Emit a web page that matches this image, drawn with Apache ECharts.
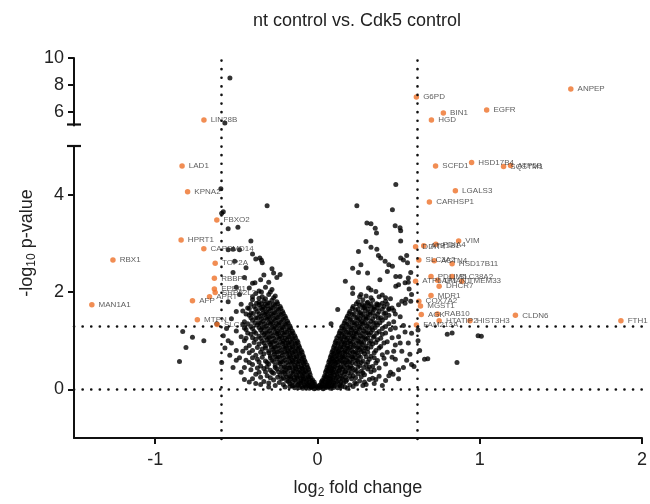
<!DOCTYPE html>
<html><head><meta charset="utf-8">
<script src="https://cdn.jsdelivr.net/npm/echarts@6/dist/echarts.min.js"></script>
<style>html,body{margin:0;padding:0;background:#fff}#c{width:650px;height:504px}</style>
</head><body><div id="c"></div>
<script>
// ---------------- DATA ----------------
const titleText = 'nt control vs. Cdk5 control';
const xTicks = [-1, 0, 1, 2];
const yTicksLow = [0, 2, 4];
const yTicksHigh = [6, 8, 10];
const fcThresholds = [-0.6, 0.6];
const pThresholds = [0, 1.301];

// labelled hits (orange)
const hitNames = ['LIN28B','G6PD','BIN1','EGFR','HGD','ANPEP',
  'LAD1','KPNA2','FBXO2','HPRT1','CAPSMD14','TOP2A','RBBP4','EPB41','SRP52L2','APRT','AFP','MAN1A1','RBX1','MTPN','SLC1A5',
  'SCFD1','HSD17B4','SQSTM1','ATP5B','LGALS3','CARHSP1','VIM','DDIT4','ATP1B1','PDIA4','SLC3A2','ACTN4','HSD17B11',
  'PDLIM5','SLC38A2','ATP6AP1','LMAN1','TMEM33','DHCR7','MDR1','COX7A2','MGST1','AGK','RAB10','HTATIP2','HIST3H3','FAM213A','CLDN6','FTH1'];
const hitFC = [-0.705,0.595,0.76,1.025,0.687,1.54,
  -0.834,-0.80,-0.62,-0.84,-0.70,-0.63,-0.635,-0.635,-0.63,-0.665,-0.77,-1.39,-1.26,-0.74,-0.618,
  0.728,0.95,1.147,1.19,0.85,0.69,0.87,0.605,0.655,0.73,0.625,0.72,0.83,
  0.70,0.83,0.605,0.74,0.89,0.75,0.70,0.625,0.635,0.64,0.74,0.75,0.94,0.61,1.22,1.87];
const hitP = [5.41,7.11,5.93,6.15,5.41,7.70,
  4.59,4.06,3.48,3.07,2.89,2.59,2.28,2.06,1.99,1.90,1.82,1.74,2.66,1.43,1.33,
  4.59,4.66,4.58,4.60,4.08,3.85,3.05,2.93,2.95,2.98,2.66,2.64,2.58,
  2.32,2.32,2.22,2.24,2.22,2.12,1.93,1.81,1.71,1.54,1.55,1.41,1.41,1.32,1.52,1.41];

// background genes (black): [log2 fold change, -log10 p]
const otherPoints = [
 [-0.577,5.19],[-0.546,8.52],
 // right, scattered high
 [0.483,4.21],[0.243,3.77],[0.462,3.69],[0.305,3.42],[0.33,3.40],[0.356,3.31],[0.364,3.21],[0.509,3.32],[0.513,3.26],[0.479,3.36],
 [0.299,3.04],[0.513,3.05],[0.33,2.92],[0.366,2.88],[0.253,2.83],[0.376,2.75],[0.39,2.70],[0.55,2.75],[0.417,2.63],[0.44,2.56],[0.513,2.70],
 [0.53,2.66],[0.217,2.49],[0.268,2.56],[0.253,2.40],[0.309,2.39],[0.431,2.42],[0.462,2.53],[0.483,2.32],[0.509,2.32],[0.172,2.22],[0.385,2.25],
 [0.56,2.29],[0.217,2.08],[0.217,1.97],[0.268,1.95],[0.315,2.08],[0.33,2.04],[0.36,2.01],[0.40,1.94],[0.483,2.12],[0.50,2.15],[0.54,2.19],
 [0.565,2.06],[0.575,1.81],[0.125,1.64],[0.084,1.35],[0.29,1.71],[0.37,1.74],[0.42,1.81],[0.44,1.64],[0.50,1.74],[0.52,1.81],[0.54,1.77],
 [0.555,2.6],[0.575,2.4],[0.56,2.2],[0.58,1.95],[0.545,1.85],
 // right, dense
 [0.005,0.02],[0.02,0.04],[0.035,0.01],[0.05,0.03],[0.065,0.05],[0.08,0.02],[0.1,0.04],[0.125,0.03],[0.15,0.06],[0.185,0.02],
 [0.015,0.09],[0.03,0.12],[0.045,0.08],[0.06,0.11],[0.075,0.13],[0.09,0.09],[0.11,0.12],[0.135,0.1],[0.16,0.13],[0.2,0.09],[0.24,0.11],
 [0.03,0.18],[0.05,0.21],[0.065,0.17],[0.08,0.22],[0.095,0.19],[0.115,0.23],[0.13,0.18],[0.155,0.21],[0.18,0.19],[0.21,0.22],[0.26,0.17],[0.32,0.2],
 [0.045,0.28],[0.06,0.31],[0.075,0.27],[0.09,0.33],[0.105,0.29],[0.12,0.32],[0.14,0.28],[0.165,0.31],[0.19,0.34],[0.22,0.28],[0.25,0.32],[0.29,0.3],[0.38,0.27],
 [0.055,0.39],[0.07,0.42],[0.085,0.38],[0.1,0.41],[0.12,0.44],[0.135,0.39],[0.155,0.42],[0.175,0.38],[0.2,0.43],[0.23,0.4],[0.27,0.37],[0.31,0.42],[0.35,0.39],
 [0.065,0.49],[0.08,0.52],[0.095,0.48],[0.11,0.53],[0.125,0.5],[0.145,0.47],[0.16,0.54],[0.18,0.5],[0.205,0.48],[0.235,0.53],[0.26,0.49],[0.3,0.51],[0.34,0.47],[0.42,0.52],
 [0.075,0.6],[0.09,0.63],[0.105,0.58],[0.12,0.62],[0.14,0.59],[0.16,0.64],[0.18,0.6],[0.2,0.57],[0.22,0.63],[0.245,0.6],[0.28,0.58],[0.32,0.62],[0.37,0.59],
 [0.085,0.7],[0.1,0.73],[0.12,0.69],[0.135,0.72],[0.155,0.68],[0.17,0.74],[0.19,0.7],[0.21,0.67],[0.23,0.72],[0.255,0.69],[0.29,0.73],[0.33,0.68],[0.4,0.71],[0.46,0.66],
 [0.095,0.8],[0.115,0.83],[0.13,0.78],[0.15,0.82],[0.17,0.79],[0.19,0.84],[0.21,0.8],[0.235,0.77],[0.26,0.82],[0.285,0.79],[0.31,0.84],[0.36,0.8],
 [0.105,0.9],[0.125,0.93],[0.145,0.88],[0.165,0.92],[0.185,0.89],[0.205,0.94],[0.225,0.9],[0.25,0.87],[0.275,0.92],[0.3,0.89],[0.34,0.93],[0.39,0.88],[0.48,0.91],
 [0.115,1.0],[0.14,1.03],[0.16,0.98],[0.18,1.02],[0.2,0.99],[0.225,1.04],[0.25,1.0],[0.27,0.97],[0.3,1.03],[0.33,0.99],[0.37,1.02],[0.43,0.98],
 [0.13,1.1],[0.15,1.13],[0.17,1.08],[0.195,1.12],[0.22,1.09],[0.24,1.14],[0.265,1.1],[0.29,1.07],[0.32,1.12],[0.35,1.09],[0.4,1.13],[0.5,1.08],
 [0.14,1.2],[0.165,1.23],[0.19,1.18],[0.21,1.22],[0.235,1.19],[0.26,1.24],[0.285,1.2],[0.31,1.17],[0.34,1.22],[0.38,1.19],[0.45,1.23],
 [0.155,1.3],[0.18,1.33],[0.205,1.28],[0.23,1.32],[0.255,1.29],[0.28,1.34],[0.305,1.3],[0.335,1.27],[0.37,1.32],[0.42,1.29],[0.53,1.31],
 [0.17,1.4],[0.2,1.43],[0.225,1.38],[0.25,1.42],[0.275,1.39],[0.3,1.44],[0.33,1.4],[0.36,1.37],[0.4,1.42],[0.47,1.39],
 [0.185,1.5],[0.215,1.53],[0.245,1.48],[0.27,1.52],[0.3,1.49],[0.325,1.54],[0.355,1.5],[0.39,1.47],[0.44,1.52],[0.51,1.49],
 [0.2,1.6],[0.235,1.63],[0.265,1.58],[0.295,1.62],[0.325,1.59],[0.35,1.64],[0.38,1.6],[0.42,1.57],[0.47,1.62],
 [0.22,1.7],[0.26,1.73],[0.29,1.68],[0.32,1.72],[0.35,1.69],[0.38,1.74],[0.41,1.7],[0.46,1.67],
 [0.25,1.8],[0.28,1.84],[0.31,1.79],[0.34,1.83],[0.45,1.86],
 [0.01,0.07],[0.028,0.06],[0.042,0.05],[0.058,0.08],[0.072,0.07],[0.088,0.06],[0.105,0.08],[0.14,0.07],[0.17,0.05],[0.22,0.06],
 [0.025,0.15],[0.038,0.16],[0.052,0.14],[0.068,0.15],[0.085,0.16],[0.1,0.14],[0.12,0.16],[0.145,0.15],[0.175,0.16],[0.23,0.14],[0.29,0.15],
 [0.04,0.24],[0.055,0.26],[0.07,0.23],[0.085,0.27],[0.1,0.24],[0.125,0.26],[0.15,0.24],[0.175,0.25],[0.2,0.27],[0.235,0.24],[0.27,0.26],[0.34,0.23],
 [0.05,0.35],[0.065,0.37],[0.08,0.34],[0.095,0.36],[0.115,0.35],[0.13,0.37],[0.15,0.34],[0.17,0.36],[0.21,0.35],[0.24,0.37],[0.28,0.34],[0.33,0.36],
 [0.06,0.45],[0.075,0.46],[0.09,0.44],[0.105,0.46],[0.14,0.45],[0.165,0.46],[0.19,0.45],[0.215,0.44],[0.25,0.46],[0.285,0.45],[0.32,0.46],[0.38,0.44],
 [0.07,0.56],[0.085,0.55],[0.1,0.57],[0.115,0.55],[0.13,0.56],[0.15,0.57],[0.17,0.55],[0.19,0.56],[0.215,0.55],[0.25,0.57],[0.27,0.55],[0.31,0.56],[0.36,0.54],
 [0.08,0.66],[0.095,0.65],[0.11,0.67],[0.13,0.65],[0.15,0.66],[0.165,0.67],[0.185,0.65],[0.215,0.66],[0.235,0.65],[0.265,0.66],[0.3,0.67],[0.35,0.65],[0.41,0.64],
 [0.09,0.76],[0.11,0.75],[0.125,0.77],[0.14,0.75],[0.16,0.76],[0.18,0.77],[0.2,0.75],[0.22,0.76],[0.245,0.75],[0.27,0.77],[0.31,0.76],[0.35,0.75],[0.43,0.76],
 [0.1,0.86],[0.12,0.85],[0.14,0.86],[0.16,0.87],[0.18,0.85],[0.2,0.86],[0.22,0.87],[0.245,0.85],[0.27,0.86],[0.295,0.85],[0.33,0.87],[0.38,0.85],
 [0.11,0.96],[0.13,0.95],[0.15,0.97],[0.17,0.95],[0.19,0.96],[0.215,0.97],[0.24,0.95],[0.26,0.96],[0.285,0.97],[0.32,0.95],[0.36,0.96],[0.41,0.95],
 [0.12,1.06],[0.145,1.05],[0.165,1.07],[0.185,1.05],[0.21,1.06],[0.23,1.07],[0.255,1.05],[0.28,1.06],[0.31,1.05],[0.345,1.07],[0.39,1.05],[0.46,1.06],
 [0.135,1.16],[0.16,1.15],[0.18,1.17],[0.205,1.15],[0.225,1.16],[0.25,1.17],[0.275,1.15],[0.3,1.16],[0.33,1.17],[0.365,1.15],[0.42,1.16],
 [0.15,1.26],[0.17,1.25],[0.195,1.27],[0.22,1.25],[0.245,1.26],[0.27,1.27],[0.295,1.25],[0.32,1.26],[0.355,1.27],[0.4,1.25],[0.48,1.26],
 [0.165,1.36],[0.19,1.35],[0.215,1.37],[0.24,1.35],[0.265,1.36],[0.29,1.37],[0.315,1.35],[0.345,1.36],[0.385,1.37],[0.44,1.35],
 [0.18,1.46],[0.205,1.45],[0.235,1.47],[0.26,1.45],[0.285,1.46],[0.31,1.47],[0.34,1.45],[0.375,1.46],[0.42,1.47],
 [0.195,1.56],[0.225,1.55],[0.255,1.57],[0.28,1.55],[0.31,1.56],[0.34,1.57],[0.37,1.55],[0.41,1.56],[0.48,1.55],
 [0.215,1.66],[0.25,1.65],[0.28,1.67],[0.31,1.65],[0.34,1.66],[0.37,1.67],[0.4,1.65],[0.44,1.66],
 [0.24,1.76],[0.275,1.75],[0.305,1.77],[0.33,1.75],[0.365,1.76],[0.4,1.77],[0.43,1.75],
 [0.26,1.9],[0.3,1.92],[0.33,1.88],[0.38,1.9],[0.42,1.88],
 [0.42,0.18],[0.45,0.35],[0.5,0.4],[0.28,0.08],[0.35,0.12],[0.5,0.22],[0.55,0.6],[0.52,0.78],[0.56,0.95],[0.58,1.15],
 [0.3,0.1],[0.4,0.08],[0.36,0.2],[0.44,0.28],[0.466,0.31],[0.48,0.62],[0.53,0.45],[0.57,0.72],[0.58,0.51],[0.47,0.78],[0.51,0.95],[0.54,1.18],
 [0.62,1.0],[0.63,0.8],[0.66,0.62],[0.68,0.63],[0.80,1.13],[0.83,1.16],[0.99,1.1],[1.01,1.09],[0.86,0.55],[0.595,0.47],[0.62,1.22],
 // left, dense
 [-0.005,0.03],[-0.02,0.01],[-0.035,0.04],[-0.05,0.02],[-0.07,0.05],[-0.09,0.02],[-0.11,0.04],[-0.14,0.03],[-0.17,0.06],
 [-0.015,0.1],[-0.03,0.13],[-0.045,0.08],[-0.06,0.12],[-0.08,0.09],[-0.1,0.13],[-0.12,0.1],[-0.145,0.08],[-0.17,0.12],[-0.21,0.1],[-0.26,0.08],
 [-0.03,0.19],[-0.05,0.22],[-0.065,0.18],[-0.085,0.21],[-0.1,0.17],[-0.12,0.23],[-0.14,0.19],[-0.165,0.22],[-0.19,0.18],[-0.22,0.21],[-0.27,0.19],[-0.33,0.16],
 [-0.045,0.3],[-0.06,0.27],[-0.08,0.32],[-0.095,0.28],[-0.11,0.33],[-0.13,0.29],[-0.15,0.31],[-0.175,0.27],[-0.2,0.32],[-0.23,0.29],[-0.27,0.33],[-0.31,0.28],[-0.38,0.31],
 [-0.055,0.41],[-0.075,0.38],[-0.09,0.43],[-0.11,0.39],[-0.13,0.42],[-0.15,0.38],[-0.17,0.44],[-0.195,0.4],[-0.22,0.37],[-0.25,0.42],[-0.29,0.39],[-0.33,0.43],[-0.41,0.4],
 [-0.065,0.5],[-0.085,0.53],[-0.1,0.48],[-0.12,0.52],[-0.14,0.49],[-0.16,0.54],[-0.18,0.5],[-0.205,0.47],[-0.23,0.53],[-0.26,0.49],[-0.3,0.52],[-0.35,0.48],[-0.4,0.51],
 [-0.08,0.6],[-0.095,0.63],[-0.115,0.58],[-0.135,0.62],[-0.155,0.59],[-0.175,0.64],[-0.2,0.6],[-0.225,0.57],[-0.25,0.63],[-0.28,0.6],[-0.32,0.58],[-0.37,0.62],[-0.44,0.6],
 [-0.09,0.7],[-0.11,0.73],[-0.13,0.68],[-0.15,0.72],[-0.17,0.69],[-0.19,0.74],[-0.215,0.7],[-0.24,0.67],[-0.265,0.72],[-0.29,0.69],[-0.33,0.73],[-0.38,0.7],
 [-0.1,0.8],[-0.12,0.83],[-0.14,0.78],[-0.16,0.82],[-0.18,0.79],[-0.2,0.84],[-0.225,0.8],[-0.25,0.77],[-0.275,0.82],[-0.3,0.79],[-0.34,0.83],[-0.4,0.8],[-0.46,0.78],
 [-0.115,0.9],[-0.135,0.93],[-0.155,0.88],[-0.175,0.92],[-0.195,0.89],[-0.215,0.94],[-0.24,0.9],[-0.265,0.87],[-0.29,0.92],[-0.32,0.89],[-0.36,0.93],[-0.42,0.9],
 [-0.125,1.0],[-0.15,1.03],[-0.17,0.98],[-0.19,1.02],[-0.21,0.99],[-0.235,1.04],[-0.26,1.0],[-0.285,0.97],[-0.31,1.02],[-0.34,0.99],[-0.38,1.03],[-0.45,1.0],
 [-0.14,1.1],[-0.16,1.13],[-0.18,1.08],[-0.205,1.12],[-0.23,1.09],[-0.25,1.14],[-0.275,1.1],[-0.3,1.07],[-0.33,1.12],[-0.36,1.09],[-0.41,1.13],[-0.47,1.08],
 [-0.155,1.2],[-0.175,1.23],[-0.2,1.18],[-0.22,1.22],[-0.245,1.19],[-0.27,1.24],[-0.295,1.2],[-0.32,1.17],[-0.35,1.22],[-0.39,1.19],[-0.44,1.23],
 [-0.17,1.3],[-0.195,1.33],[-0.215,1.28],[-0.24,1.32],[-0.265,1.29],[-0.29,1.34],[-0.315,1.3],[-0.34,1.27],[-0.37,1.32],[-0.41,1.29],[-0.46,1.33],
 [-0.185,1.4],[-0.21,1.43],[-0.235,1.38],[-0.26,1.42],[-0.285,1.39],[-0.31,1.44],[-0.335,1.4],[-0.36,1.37],[-0.4,1.42],[-0.45,1.39],
 [-0.2,1.5],[-0.225,1.53],[-0.25,1.48],[-0.275,1.52],[-0.3,1.49],[-0.325,1.54],[-0.35,1.5],[-0.38,1.47],[-0.42,1.52],
 [-0.215,1.6],[-0.24,1.63],[-0.265,1.58],[-0.29,1.62],[-0.315,1.59],[-0.34,1.64],[-0.37,1.6],[-0.41,1.57],[-0.46,1.61],
 [-0.23,1.7],[-0.26,1.73],[-0.285,1.68],[-0.31,1.72],[-0.335,1.69],[-0.36,1.74],[-0.39,1.7],[-0.43,1.67],
 [-0.25,1.8],[-0.28,1.83],[-0.305,1.78],[-0.33,1.82],[-0.36,1.79],[-0.4,1.84],
 [-0.01,0.06],[-0.025,0.07],[-0.04,0.05],[-0.055,0.08],[-0.075,0.07],[-0.095,0.06],[-0.12,0.08],[-0.155,0.07],[-0.2,0.05],
 [-0.02,0.15],[-0.035,0.16],[-0.05,0.14],[-0.07,0.15],[-0.09,0.16],[-0.11,0.14],[-0.13,0.16],[-0.155,0.15],[-0.18,0.16],[-0.235,0.14],[-0.3,0.13],
 [-0.04,0.24],[-0.055,0.26],[-0.075,0.23],[-0.09,0.26],[-0.105,0.24],[-0.125,0.26],[-0.145,0.24],[-0.165,0.25],[-0.19,0.26],[-0.21,0.24],[-0.245,0.25],[-0.29,0.24],[-0.35,0.25],
 [-0.05,0.35],[-0.07,0.36],[-0.085,0.34],[-0.1,0.36],[-0.12,0.35],[-0.14,0.37],[-0.16,0.34],[-0.185,0.36],[-0.21,0.35],[-0.24,0.36],[-0.28,0.35],[-0.32,0.36],[-0.36,0.35],
 [-0.06,0.45],[-0.08,0.46],[-0.095,0.44],[-0.115,0.46],[-0.135,0.45],[-0.155,0.46],[-0.175,0.44],[-0.2,0.45],[-0.225,0.46],[-0.26,0.45],[-0.31,0.46],[-0.37,0.44],
 [-0.075,0.56],[-0.09,0.55],[-0.11,0.57],[-0.13,0.55],[-0.15,0.56],[-0.17,0.57],[-0.19,0.55],[-0.215,0.56],[-0.24,0.55],[-0.27,0.57],[-0.31,0.55],[-0.36,0.56],[-0.42,0.55],
 [-0.085,0.66],[-0.105,0.65],[-0.125,0.67],[-0.145,0.65],[-0.165,0.66],[-0.185,0.67],[-0.21,0.65],[-0.235,0.66],[-0.26,0.67],[-0.29,0.65],[-0.34,0.66],[-0.4,0.65],
 [-0.095,0.76],[-0.115,0.75],[-0.135,0.77],[-0.155,0.75],[-0.175,0.76],[-0.2,0.77],[-0.22,0.75],[-0.245,0.76],[-0.27,0.77],[-0.3,0.75],[-0.35,0.76],[-0.42,0.75],
 [-0.11,0.86],[-0.13,0.85],[-0.15,0.87],[-0.17,0.85],[-0.19,0.86],[-0.21,0.87],[-0.235,0.85],[-0.26,0.86],[-0.285,0.87],[-0.32,0.85],[-0.37,0.86],[-0.44,0.85],
 [-0.12,0.96],[-0.14,0.95],[-0.16,0.97],[-0.18,0.95],[-0.2,0.96],[-0.225,0.97],[-0.25,0.95],[-0.275,0.96],[-0.3,0.97],[-0.33,0.95],[-0.39,0.96],
 [-0.135,1.06],[-0.155,1.05],[-0.175,1.07],[-0.2,1.05],[-0.22,1.06],[-0.245,1.07],[-0.27,1.05],[-0.295,1.06],[-0.32,1.07],[-0.35,1.05],[-0.4,1.06],[-0.44,1.05],
 [-0.15,1.16],[-0.17,1.15],[-0.19,1.17],[-0.215,1.15],[-0.24,1.16],[-0.26,1.17],[-0.285,1.15],[-0.31,1.16],[-0.34,1.17],[-0.38,1.15],[-0.43,1.16],
 [-0.165,1.26],[-0.185,1.25],[-0.21,1.27],[-0.23,1.25],[-0.255,1.26],[-0.28,1.27],[-0.305,1.25],[-0.33,1.26],[-0.36,1.27],[-0.4,1.25],[-0.45,1.26],
 [-0.18,1.36],[-0.2,1.35],[-0.225,1.37],[-0.25,1.35],[-0.275,1.36],[-0.3,1.37],[-0.325,1.35],[-0.35,1.36],[-0.385,1.37],[-0.43,1.35],
 [-0.195,1.46],[-0.22,1.45],[-0.245,1.47],[-0.27,1.45],[-0.295,1.46],[-0.32,1.47],[-0.345,1.45],[-0.37,1.46],[-0.41,1.47],
 [-0.21,1.56],[-0.235,1.55],[-0.26,1.57],[-0.285,1.55],[-0.31,1.56],[-0.335,1.57],[-0.36,1.55],[-0.395,1.56],[-0.44,1.55],
 [-0.225,1.66],[-0.25,1.65],[-0.275,1.67],[-0.3,1.65],[-0.325,1.66],[-0.35,1.67],[-0.38,1.65],[-0.42,1.66],
 [-0.245,1.76],[-0.27,1.75],[-0.295,1.77],[-0.32,1.75],[-0.345,1.76],[-0.375,1.77],[-0.41,1.75],
 [-0.27,1.88],[-0.32,1.86],[-0.36,1.87],[-0.29,2.0],[-0.345,2.0],[-0.4,1.9],
 [-0.26,1.92],[-0.3,1.95],[-0.34,1.9],[-0.38,1.97],[-0.28,2.05],[-0.32,2.1],[-0.36,2.02],[-0.42,2.08],[-0.3,2.2],[-0.35,2.25],[-0.25,2.3],
 [-0.4,2.18],[-0.28,2.48],[-0.27,2.39],[-0.33,2.35],[-0.45,2.3],[-0.5,2.1],[-0.48,1.95],[-0.52,2.4],[-0.44,2.5],[-0.23,2.36],[-0.385,2.19],
 // left, scattered high
 [-0.31,3.77],[-0.49,3.33],[-0.55,3.30],[-0.59,3.62],[-0.58,3.65],[-0.595,4.12],[-0.41,3.05],[-0.55,2.87],[-0.52,2.88],[-0.48,2.87],
 [-0.51,2.63],[-0.38,2.68],[-0.345,2.65],[-0.4,2.78],[-0.355,2.7],[-0.34,2.6],
 // left, low / outer
 [-0.85,0.57],[-0.81,0.86],[-0.77,1.07],[-0.70,1.0],[-0.83,1.19],[-0.58,1.1],[-0.57,0.85],[-0.59,0.55],[-0.53,0.95],[-0.5,1.2],
 [-0.54,0.7],[-0.52,0.45],[-0.47,0.35],[-0.45,0.2],[-0.5,0.6],[-0.62,1.35],[-0.35,0.1],[-0.3,0.05],[-0.4,0.22],[-0.42,0.15],
 [-0.38,0.12],[-0.45,0.45],[-0.5,0.8],[-0.55,1.0],[-0.48,0.65],[-0.56,1.25],[-0.53,1.45],[-0.5,1.6],[-0.55,1.8],[-0.47,1.75]
];

// ---------------- LAYOUT ----------------
const W = 650, H = 504;
const L = 74, R = 4;
const upTop = 58, upBottomPx = 125.5;   // pixel of y=5 in the upper panel
const lowTop = 146, lowBottomPx = 439;  // pixel of y=-1 in the lower panel
const BREAK = 5;
const ORANGE = '#ee7028';
const FONT = 'Liberation Sans, Arial, sans-serif';

const chart = echarts.init(document.getElementById('c'), null, {renderer: 'canvas'});

const hits = hitNames.map((n, i) => ({name: n, value: [hitFC[i], hitP[i]]}));
const hitsHigh = hits.filter(d => d.value[1] > BREAK);
const hitsLow = hits.filter(d => d.value[1] <= BREAK);
const othHigh = otherPoints.filter(d => d[1] > BREAK);
const othLow = otherPoints.filter(d => d[1] <= BREAK);

const axisLine = {show: true, lineStyle: {color: '#111', width: 2}};
const axisTickStyle = {lineStyle: {color: '#111', width: 2}, length: 6, inside: false};
const tickLabel = {color: '#222', fontSize: 18, fontFamily: FONT};

const dotted = {color: '#111', width: 2.6, type: [0.1, 8.5], cap: 'round'};

const hitLabel = {show: true, position: 'right', distance: 4, formatter: '{b}', color: '#333', fontSize: 8, fontFamily: FONT};

const option = {
  animation: false,
  backgroundColor: '#fff',
  title: {text: titleText, left: 352, top: 7, textAlign: 'center',
    textStyle: {fontSize: 18, fontWeight: 'normal', color: '#222', fontFamily: FONT}},
  grid: [
    {left: L, right: R, top: upTop, bottom: H - upBottomPx},
    {left: L, right: R, top: lowTop, bottom: H - lowBottomPx},
    {left: L, right: R, top: upTop, bottom: H - lowBottomPx}
  ],
  xAxis: [
    {gridIndex: 0, type: 'value', min: -1.5, max: 2, show: false},
    {gridIndex: 1, type: 'value', min: -1.5, max: 2,
      axisLine: Object.assign({onZero: false}, axisLine),
      axisTick: Object.assign({customValues: xTicks}, axisTickStyle),
      axisLabel: Object.assign({customValues: xTicks, margin: 13}, tickLabel),
      splitLine: {show: false},
      name: '{a|log}{s|2}{a| fold change}', nameLocation: 'middle', nameGap: 39,
      nameTextStyle: {color: '#222', fontFamily: FONT, rich: {
        a: {fontSize: 18, color: '#222', fontFamily: FONT, lineHeight: 22},
        s: {fontSize: 12, color: '#222', fontFamily: FONT, lineHeight: 22, padding: [10, 0, 0, 0]}}}},
    {gridIndex: 2, type: 'value', min: -1.5, max: 2, show: false}
  ],
  yAxis: [
    {gridIndex: 0, type: 'value', min: BREAK, max: 10,
      axisLine: Object.assign({onZero: false}, axisLine),
      axisTick: Object.assign({customValues: yTicksHigh}, axisTickStyle),
      axisLabel: Object.assign({customValues: yTicksHigh, margin: 10}, tickLabel),
      splitLine: {show: false}},
    {gridIndex: 1, type: 'value', min: -1, max: BREAK,
      axisLine: Object.assign({onZero: false}, axisLine),
      axisTick: Object.assign({customValues: yTicksLow}, axisTickStyle),
      axisLabel: Object.assign({customValues: yTicksLow, margin: 10}, tickLabel),
      splitLine: {show: false}},
    {gridIndex: 2, type: 'value', min: 0, max: 1, show: false}
  ],
  series: [
    {type: 'scatter', xAxisIndex: 2, yAxisIndex: 2, data: [], silent: true,
      markLine: {silent: true, symbol: 'none', label: {show: false}, lineStyle: dotted,
        data: fcThresholds.map(v => ({xAxis: v}))}},
    {type: 'scatter', xAxisIndex: 1, yAxisIndex: 1, data: [], silent: true,
      markLine: {silent: true, symbol: 'none', label: {show: false}, lineStyle: dotted,
        data: pThresholds.map(v => ({yAxis: v}))}},
    {type: 'scatter', xAxisIndex: 0, yAxisIndex: 0, data: othHigh, symbolSize: 5,
      itemStyle: {color: '#000'}, silent: true, z: 3},
    {type: 'scatter', xAxisIndex: 1, yAxisIndex: 1, data: othLow, symbolSize: 5,
      itemStyle: {color: '#000'}, silent: true, z: 3},
    {type: 'scatter', xAxisIndex: 0, yAxisIndex: 0, data: hitsHigh, symbolSize: 5.5,
      itemStyle: {color: ORANGE}, label: hitLabel, silent: true, z: 4},
    {type: 'scatter', xAxisIndex: 1, yAxisIndex: 1, data: hitsLow, symbolSize: 5.5,
      itemStyle: {color: ORANGE}, label: hitLabel, silent: true, z: 4}
  ],
  graphic: [
    {type: 'line', shape: {x1: L - 7, y1: upBottomPx - 1, x2: L + 7, y2: upBottomPx - 1},
      style: {stroke: '#111', lineWidth: 2.2}, z: 10},
    {type: 'line', shape: {x1: L - 7, y1: lowTop, x2: L + 7, y2: lowTop},
      style: {stroke: '#111', lineWidth: 2.2}, z: 10},
    {type: 'text', x: 27, y: 243, rotation: Math.PI / 2,
      style: {text: '{a|-log}{s|10}{a| p-value}', align: 'center', verticalAlign: 'middle',
        rich: {a: {fontSize: 18, fill: '#222', fontFamily: FONT, lineHeight: 22},
               s: {fontSize: 12, fill: '#222', fontFamily: FONT, lineHeight: 22, padding: [10, 0, 0, 0]}}}}
  ]
};
chart.setOption(option);
</script></body></html>
